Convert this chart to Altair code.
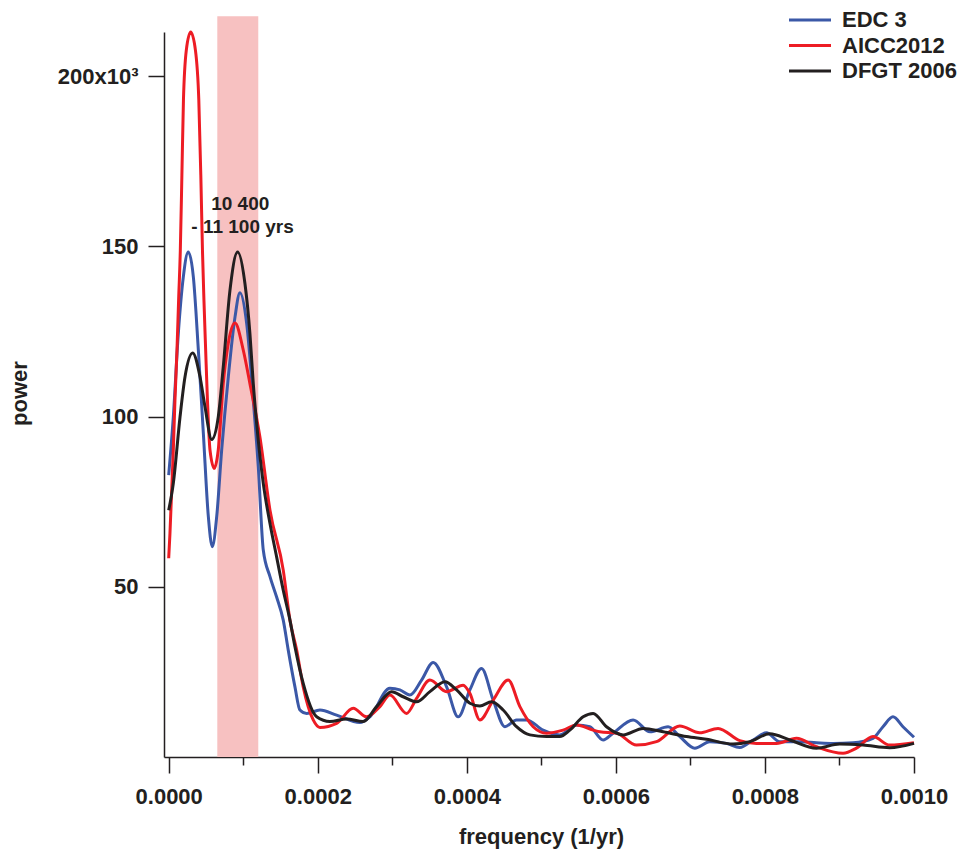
import altair as alt
import pandas as pd

# ---- data (frequency in units of 1e-6 /yr, power in units of 1e3) ----
edc_f = [0, 6.2, 12.9, 19.6, 26.3, 33.1, 39.8, 46.5, 53.2, 58.5,
         64.4, 71.1, 80.0, 89.0, 95.6, 104.6, 113.5, 120.2, 126.9, 135.9,
         144.8, 153.7, 160.4, 169.4, 176.1, 185.1, 202.9, 225.3, 256.6, 270.0,
         296.8, 310.2, 323.6, 339.3, 354.9, 372.9, 388.4, 404.1, 419.8, 435.4,
         451.1, 466.7, 480.2, 502.4, 524.8, 547.2, 565.1, 582.9, 596.3, 623.1,
         645.8, 670.1, 685.8, 705.9, 726.0, 748.4, 766.2, 784.1, 802.0, 819.9,
         846.7, 869.1, 891.4, 918.2, 945.0, 958.4, 971.8, 985.2, 1000]
edc_p = [82.8, 99.9, 124.4, 141, 148.4, 141, 119.5, 95.1, 70.6, 61.8,
         70.6, 90.2, 111.7, 129.3, 136.4, 127.4, 104.8, 85.3, 60.8, 53,
         47, 40.2, 31.4, 20.6, 13.8, 12.8, 13.8, 12.3, 10.1, 11.8,
         20.2, 19.7, 18.2, 22.6, 27.8, 20.6, 11.8, 19.7, 26.0, 16.7,
         8.9, 10.9, 10.9, 7.9, 6.5, 9.4, 8.9, 5.0, 7.0, 10.9,
         7.4, 8.9, 6.0, 2.6, 4.5, 4.0, 2.8, 5.0, 7.1, 4.5,
         4.5, 4.2, 4.0, 4.2, 5.5, 8.9, 11.8, 8.9, 5.8]

aicc_f = [0, 1.7, 6.2, 8.4, 11.1, 13.3, 15.6, 17.7, 19.8, 23.6,
          29.5, 35.9, 40.4, 43.1, 45.3, 47.3, 49.6, 52.0, 55.4, 61.2,
          66.5, 73.2, 79.9, 88.9, 100.1, 109.0, 122.4, 135.9, 153.7, 162.7,
          171.7, 180.5, 193.9, 202.9, 225.3, 247.6, 265.6, 283.4, 296.8, 319.2,
          332.6, 350.5, 372.9, 395.1, 404.1, 417.5, 435.4, 455.5, 471.2, 489.0,
          507.0, 529.2, 547.2, 569.5, 578.5, 600.9, 627.7, 654.5, 685.8, 712.6,
          737.1, 766.2, 788.6, 815.5, 842.3, 869.1, 904.8, 922.7, 945.0, 967.4,
          1000]
aicc_p = [58.4, 65.7, 90.2, 104.8, 119.5, 134.2, 148.9, 170.9, 193, 207.6,
          213, 207.6, 193, 170.9, 148.9, 134.2, 119.5, 104.8, 90.2, 84.8,
          90.2, 109.7, 121.5, 127.5, 119.5, 109.7, 94, 72.5, 54.9, 40.2,
          31.4, 20.6, 10.9, 8.7, 9.9, 14.3, 11.8, 14.8, 18.2, 12.8,
          17.2, 22.6, 19.2, 21.1, 18.7, 10.9, 16.7, 22.6, 14.8, 8.9,
          7.0, 7.9, 9.4, 7.9, 7.4, 7.0, 3.5, 4.5, 9.1, 7.1,
          8.4, 4.8, 4.0, 4.0, 5.5, 3.0, 1.1, 2.6, 6.0, 3.5,
          4.2]

dfgt_f = [0, 6.2, 15.2, 21.9, 32.2, 42.0, 48.7, 57.7, 66.5, 73.2,
          82.2, 92.5, 102.3, 109.0, 113.5, 118.0, 126.9, 135.9, 144.8, 153.7,
          162.7, 169.4, 180.5, 198.5, 216.3, 238.7, 261.0, 279.0, 299.1, 314.6,
          332.6, 350.5, 370.6, 386.3, 404.1, 417.5, 433.2, 448.8, 466.7, 484.6,
          507.0, 524.8, 538.2, 556.1, 569.5, 587.4, 609.7, 636.5, 663.4, 694.7,
          721.6, 757.2, 779.6, 806.5, 833.3, 869.1, 900.4, 931.6, 967.4, 1000]
dfgt_p = [72.5, 80.4, 99.9, 111.7, 118.7, 111.7, 102.9, 93.3, 99.9, 114.6,
          137.1, 148.4, 139.1, 124.4, 109.7, 98.0, 80.4, 68.6, 58.8, 49.0,
          40.2, 32.4, 21.6, 11.8, 10.4, 11.2, 10.4, 14.8, 19.2, 17.7,
          16.2, 19.2, 22.1, 19.7, 15.8, 15.0, 16.2, 13.8, 8.9, 6.5,
          6.0, 6.0, 7.9, 11.8, 12.8, 8.9, 6.5, 8.4, 7.4, 6.0,
          5.2, 3.8, 4.5, 6.8, 5.0, 2.6, 3.8, 3.5, 2.7, 4.0]

series_names = ["EDC 3", "AICC2012", "DFGT 2006"]
series_colors = ["#3b58a7", "#ed1c24", "#231f20"]

band_lo = [65.2]     # 1e-6 /yr
band_hi = [120.2]
band_top = [217.6]

ann_text = ["10 400", "- 11 100 yrs"]
ann_f = [96.0, 99.1]
ann_p = [162.4, 155.7]

x_ticks = [i / 10000 for i in range(11)]
y_ticks = [50, 100, 150, 200]

# ---- build tables ----
frames = []
for name, f, p in zip(series_names, [edc_f, aicc_f, dfgt_f], [edc_p, aicc_p, dfgt_p]):
    frames.append(pd.DataFrame({"f": [v * 1e-6 for v in f], "p": p, "series": name}))
lines_df = pd.concat(frames, ignore_index=True)
lines_df["order"] = range(len(lines_df))

band_df = pd.DataFrame({"f": [v * 1e-6 for v in band_lo], "f2": [v * 1e-6 for v in band_hi],
                        "p": [0], "p2": band_top})
ann_df = pd.DataFrame({"f": [v * 1e-6 for v in ann_f], "p": ann_p, "t": ann_text})

FONT = "Liberation Sans"
INK = "#231f20"

x_scale = alt.Scale(domain=[-0.0000063, 0.001], nice=False, zero=False)
y_scale = alt.Scale(domain=[0, 213], nice=False, zero=False)

x_axis = alt.Axis(
    values=x_ticks,
    labelExpr="round(datum.value*10000) % 2 == 0 ? format(datum.value, '.4f') : ''",
    tickSize={"condition": {"test": "round(datum.value*10000) % 2 == 0", "value": 16}, "value": 8},
    labelPadding=13, labelFontSize=22, labelFont=FONT, labelFontWeight="bold", labelColor=INK,
    labelFlush=False, labelOverlap=False,
    title="frequency (1/yr)", titleFont=FONT, titleFontSize=22, titleFontWeight="bold",
    titleColor=INK, titleX=377, titleY=79, titleBaseline="middle", titleAlign="center",
    grid=False, domainColor=INK, domainWidth=1.5, tickColor=INK, tickWidth=1.5,
)
y_axis = alt.Axis(
    values=y_ticks,
    labelExpr="datum.value == 200 ? '200x10³' : datum.label",
    tickSize=16, labelPadding=10, labelFontSize=22, labelFont=FONT, labelFontWeight="bold",
    labelColor=INK, labelOverlap=False,
    title="power", titleFont=FONT, titleFontSize=22, titleFontWeight="bold", titleColor=INK,
    titleX=-145, titleY=361, titleAngle=-90, titleBaseline="middle", titleAlign="center",
    grid=False, domainColor=INK, domainWidth=1.5, tickColor=INK, tickWidth=1.5,
)

band = alt.Chart(band_df).mark_rect(color="#f7c1c1").encode(
    x=alt.X("f:Q", scale=x_scale, axis=x_axis),
    x2="f2:Q",
    y=alt.Y("p:Q", scale=y_scale, axis=y_axis),
    y2="p2:Q",
)

lines = alt.Chart(lines_df).mark_line(strokeWidth=3, interpolate="monotone").encode(
    x=alt.X("f:Q", scale=x_scale, axis=x_axis),
    y=alt.Y("p:Q", scale=y_scale, axis=y_axis),
    order="order:Q",
    color=alt.Color(
        "series:N",
        scale=alt.Scale(domain=series_names, range=series_colors),
        legend=alt.Legend(
            orient="none", legendX=635, legendY=-23, title=None,
            symbolType="M-3,0H3", symbolSize=196, symbolStrokeWidth=3,
            symbolFillColor="transparent",
            labelFontSize=22, labelFont=FONT, labelFontWeight="bold", labelColor=INK,
            labelOffset=21, rowPadding=3.5, padding=0,
        ),
    ),
)

ann = alt.Chart(ann_df).mark_text(
    font=FONT, fontSize=19, fontWeight="bold", color=INK, align="center", baseline="middle"
).encode(
    x=alt.X("f:Q", scale=x_scale, axis=x_axis),
    y=alt.Y("p:Q", scale=y_scale, axis=y_axis),
    text="t:N",
)

chart = alt.layer(band, lines, ann).properties(
    width=750, height=725,
    autosize=alt.AutoSizeParams(type="none"),
    padding={"left": 164, "top": 32, "right": 48, "bottom": 96},
    background="white",
).configure_view(strokeWidth=0, stroke="transparent").configure_axis(
    domainColor=INK, domainWidth=1.5, tickColor=INK, tickWidth=1.5,
)

chart.save("out.html", embed_options={"renderer": "svg", "actions": False})
